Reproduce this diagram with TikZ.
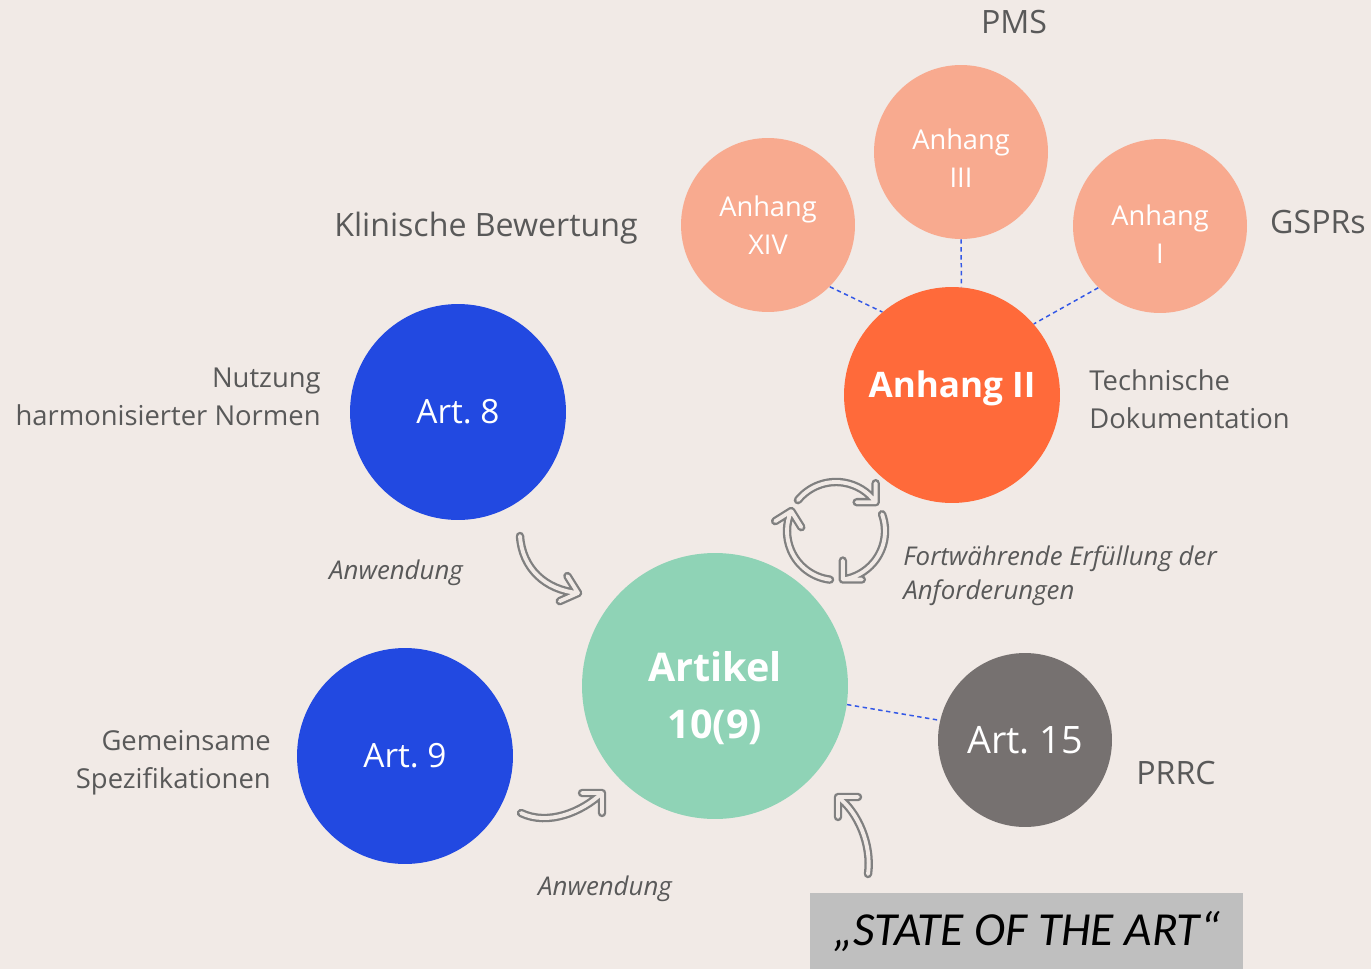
\documentclass[tikz,border=0pt]{standalone}
\usepackage{fontspec}
\setmainfont{Open Sans}
\newfontfamily\soafont{Carlito}
\usetikzlibrary{calc,positioning}
\definecolor{FigureBg}{HTML}{F1EAE6}
\definecolor{FigureText}{HTML}{595959}
\definecolor{FigureBlue}{HTML}{2249E1}
\definecolor{FigureMint}{HTML}{8FD3B6}
\definecolor{FigureOrange}{HTML}{FF6A3A}
\definecolor{FigureSalmon}{HTML}{F8AA8F}
\definecolor{FigureGrey}{HTML}{767170}
\definecolor{FigureBox}{HTML}{BFBFBF}
\definecolor{FigureArrow}{HTML}{808080}
\definecolor{FigureLink}{HTML}{3358E6}
\begin{document}
\begin{tikzpicture}[x=0.02cm,y=-0.02cm,line cap=round,line join=round,
  disc/.style={circle,fill=#1,inner sep=0pt,text=white,align=center},
  dtext/.style={text=white,inner sep=0pt,align=center},
  lbl/.style={text=FigureText,inner sep=0pt,font=\fontsize{15.6}{21.5}\selectfont},
  big/.style={font=\fontsize{18.3}{21}\selectfont},
  note/.style={text=FigureText,inner sep=0pt,font=\fontsize{14.7}{19.3}\selectfont\itshape},
  link/.style={FigureLink,line width=0.85pt,line cap=butt,dash pattern=on 2.5pt off 2pt},
  hollow/.style={draw=FigureArrow,line width=1.3pt,double=FigureBg,double distance=2.2pt}]
  \fill[FigureBg] (0,0) rectangle (1371,969);
  \useasboundingbox (0,0) rectangle (1371,969);
  % discs
  \node[disc=FigureBlue,minimum size=4.32cm,font=\fontsize{19}{22}\selectfont] (art8) at (458,412) {Art.~8};
  \node[disc=FigureBlue,minimum size=4.32cm,font=\fontsize{19}{22}\selectfont] (art9) at (405,756) {Art.~9};
  \node[disc=FigureMint,minimum size=5.32cm,
    label={[dtext,name=art10t,yshift=-6.8pt,font=\fontsize{22.5}{32.3}\selectfont\bfseries]center:{Artikel\\10(9)}}] (art10) at (715,686) {};
  \node[disc=FigureGrey,minimum size=3.48cm,font=\fontsize{21.5}{24}\selectfont] (art15) at (1025,740) {Art.~15};
  \node[disc=FigureOrange,minimum size=4.32cm,
    label={[dtext,name=anh2t,yshift=4pt,font=\fontsize{20}{24}\selectfont\bfseries]center:Anhang II}] (anh2) at (952,395) {};
  \node[disc=FigureSalmon,minimum size=3.48cm,font=\fontsize{15.5}{21.5}\selectfont] (anh14) at (768,225) {Anhang\\XIV};
  \node[disc=FigureSalmon,minimum size=3.48cm,
    label={[dtext,name=anh3t,yshift=-3.7pt,font=\fontsize{15.5}{21.5}\selectfont]center:{Anhang\\III}}] (anh3) at (961,152) {};
  \node[disc=FigureSalmon,minimum size=3.48cm,
    label={[dtext,name=anh1t,yshift=-4.5pt,font=\fontsize{15.5}{21.5}\selectfont]center:{Anhang\\I}}] (anh1) at (1160,226) {};
  % dashed links
  \draw[link] (anh14.-45) -- (anh2.130);
  \draw[link] (anh3.south) -- (anh2.85);
  \draw[link] (anh1.-135) -- (anh2.41);
  \draw[link] (art10.-8) -- (art15.167);
  % labels
  \node[lbl,big] (pms) at (1014,22) {PMS};
  \node[lbl,big] (klin) at (486,228) {Klinische Bewertung};
  \node[lbl,big] (gspr) at (1318,222) {GSPRs};
  \node[lbl,big] (prrc) at (1176,773) {PRRC};
  \node[lbl,align=right,anchor=east] (nutz) at (321,397) {Nutzung\\harmonisierter Normen};
  \node[lbl,align=left,anchor=west] (tech) at (1089,399) {Technische\\Dokumentation};
  \node[lbl,align=right,anchor=east] (gem) at (271,763) {Gemeinsame\\Spezifikationen};
  \node[note] (anw8) at (396,573) {Anwendung};
  \node[note] (anw9) at (605,889) {Anwendung};
  \node[note,align=left,anchor=west] (fort) at (903,576) {Fortwährende Erfüllung der\\Anforderungen};
  \node[fill=FigureBox,minimum width=8.66cm,minimum height=1.52cm,anchor=north west,inner sep=0pt,
    font=\soafont\fontsize{27}{32}\selectfont\itshape] (soa) at (810,893) {„STATE OF THE ART“};
  % hollow arrows
  \coordinate (a8) at (520,536);\coordinate (t8) at (578,593);
  \coordinate (a9) at (521,813);\coordinate (t9) at (602,793);
  \coordinate (as) at (868,874);\coordinate (ts) at (838,797);
  \draw[hollow] (a8) .. controls (522,568) and (545,590) .. (t8) (t8) -- ++(156:20) (t8) -- ++(238:20);
  \draw[hollow] (a9) .. controls (548,826) and (582,812) .. (t9) (t9) -- ++(90:20) (t9) -- ++(180:20);
  \draw[hollow] (as) .. controls (872,845) and (858,812) .. (ts) (ts) -- ++(0:20) (ts) -- ++(90:20);
  % cycle
  \coordinate (cyc) at (836,531);
  \foreach \sa/\ea/\ba in {-141/-36/-135,-20/82/-45,97/204/103}{
    \draw[hollow] (cyc) ++(\sa:49) arc[start angle=\sa,end angle=\ea,radius=49] coordinate (tip)
      (tip) -- ++(\ba+45:19) (tip) -- ++(\ba-45:19);
  }
\end{tikzpicture}
\end{document}
